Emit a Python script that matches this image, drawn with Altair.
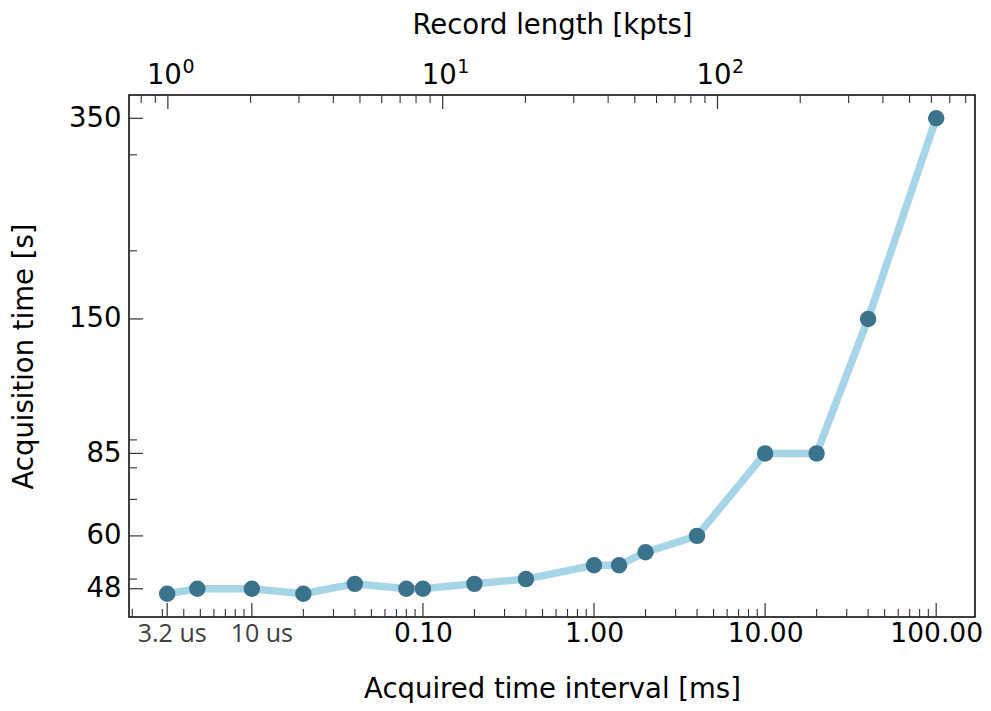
import altair as alt
import pandas as pd

# ---- data ----
time_ms = [0.0032, 0.0048, 0.01, 0.02, 0.04, 0.08, 0.1, 0.2, 0.4, 1.0, 1.4, 2.0, 4.0, 10.0, 20.0, 40.0, 100.0]
acq_s = [47, 48, 48, 47, 49, 48, 48, 49, 50, 53, 53, 56, 60, 85, 85, 150, 350]

x_label_vals = [0.1, 1, 10, 100]
x_major_ticks = [0.0032, 0.01, 0.1, 1, 10, 100]
mantissas = [2, 3, 4, 5, 6, 7, 8, 9]
x_decades = [0.001, 0.01, 0.1, 1, 10]
x_minor_ticks = [m * d for d in x_decades for m in mantissas]
us_labels = ["3.2 us", "10 us"]
us_pos = [0.0032, 0.01]

y_major = [48, 60, 85, 150, 350]
y_minor = [50, 70, 80, 90, 200, 300]

top_major = [1, 10, 100]
top_base = ["10", "10", "10"]
top_exp = ["0", "1", "2"]
top_minor = [0.8, 0.9] + [m * d for d in [1, 10, 100] for m in mantissas]

X_DOMAIN = [0.001914, 168.6]
Y_DOMAIN = [42.6, 386.2]
TOP_DOMAIN = [0.722, 865.0]

W, H = 846, 522
MAJ, MIN = 14, 8
TICK_COLOR = "#333333"
FONT = "DejaVu Sans"
FS = 27.5

df = pd.DataFrame({"t": time_ms, "a": acq_s})
xs = alt.Scale(type="log", domain=X_DOMAIN, nice=False)
ys = alt.Scale(type="log", domain=Y_DOMAIN, nice=False)
ts = alt.Scale(type="log", domain=TOP_DOMAIN, nice=False)

x_axis = alt.Axis(values=x_label_vals, format=".2f", ticks=False, domain=False, grid=False,
                  labelFont=FONT, labelFontSize=26.5, labelColor="black", labelPadding=3,
                  labelFlush=False, labelOverlap=False,
                  title="Acquired time interval [ms]", titleFont=FONT, titleFontSize=FS,
                  titleFontWeight="normal", titleColor="black", titlePadding=29)
y_axis = alt.Axis(values=y_major, format="d", ticks=False, domain=False, grid=False,
                  labelFont=FONT, labelFontSize=FS, labelColor="black", labelPadding=8,
                  labelFlush=False, labelOverlap=False,
                  title="Acquisition time [s]", titleFont=FONT, titleFontSize=FS,
                  titleFontWeight="normal", titleColor="black", titlePadding=30)
top_axis = alt.Axis(orient="top", values=top_major, ticks=False, domain=False, grid=False,
                    labels=False,
                    title="Record length [kpts]", titleFont=FONT, titleFontSize=FS,
                    titleFontWeight="normal", titleColor="black", titlePadding=56)

X = alt.X("t:Q", scale=xs, axis=x_axis)
Y = alt.Y("a:Q", scale=ys, axis=y_axis)

line = alt.Chart(df).mark_line(color="#a6d5e8", strokeWidth=7.5).encode(x=X, y=Y)
pts = alt.Chart(df).mark_circle(color="#3c738c", opacity=1, size=270).encode(x=X, y=Y)

bx_major = alt.Chart(pd.DataFrame({"t": x_major_ticks})).mark_rule(color=TICK_COLOR, strokeWidth=1.2).encode(
    x=X, y=alt.value(H), y2=alt.value(H - MAJ))
bx_minor = alt.Chart(pd.DataFrame({"t": x_minor_ticks})).transform_filter(
    f"datum.t >= {X_DOMAIN[0]} && datum.t <= {X_DOMAIN[1]}").mark_rule(color=TICK_COLOR, strokeWidth=1.1).encode(
    x=X, y=alt.value(H), y2=alt.value(H - MIN))
ly_major = alt.Chart(pd.DataFrame({"a": y_major})).mark_rule(color=TICK_COLOR, strokeWidth=1.2).encode(
    y=Y, x=alt.value(0), x2=alt.value(MAJ))
ly_minor = alt.Chart(pd.DataFrame({"a": y_minor})).mark_rule(color=TICK_COLOR, strokeWidth=1.1).encode(
    y=Y, x=alt.value(0), x2=alt.value(MIN))

us_df = pd.DataFrame({"t": us_pos, "lab": us_labels})
us1 = alt.Chart(us_df.iloc[[0]]).mark_text(font="Open Sans", fontSize=25, color="#404040",
                                            align="center", baseline="alphabetic", dx=5).encode(
    x=X, y=alt.value(H + 25), text="lab:N")
us2 = alt.Chart(us_df.iloc[[1]]).mark_text(font="Open Sans", fontSize=25, color="#404040",
                                            align="center", baseline="alphabetic", dx=10).encode(
    x=X, y=alt.value(H + 25), text="lab:N")

main = alt.layer(bx_minor, bx_major, ly_minor, ly_major, line, pts, us1, us2)

T = alt.X("r:Q", scale=ts, axis=top_axis)
top_df = pd.DataFrame({"r": top_major, "base": top_base, "exp": top_exp})
top_maj = alt.Chart(top_df).mark_rule(color=TICK_COLOR, strokeWidth=1.2).encode(
    x=T, y=alt.value(0), y2=alt.value(MAJ))
top_min = alt.Chart(pd.DataFrame({"r": top_minor})).transform_filter(
    f"datum.r >= {TOP_DOMAIN[0]} && datum.r <= {TOP_DOMAIN[1]}").mark_rule(color=TICK_COLOR, strokeWidth=1.1).encode(
    x=T, y=alt.value(0), y2=alt.value(MIN))
top_base_txt = alt.Chart(top_df).mark_text(font=FONT, fontSize=FS, color="black", align="right",
                                           baseline="alphabetic", dx=14).encode(
    x=T, y=alt.value(-11.5), text="base:N")
top_exp_txt = alt.Chart(top_df).mark_text(font=FONT, fontSize=19, color="black", align="left",
                                          baseline="alphabetic", dx=14.5).encode(
    x=T, y=alt.value(-22.5), text="exp:N")
top = alt.layer(top_min, top_maj, top_base_txt, top_exp_txt)

chart = alt.layer(main, top).resolve_scale(x="independent").properties(
    width=W, height=H,
    autosize=alt.AutoSizeParams(type="none"),
    padding={"left": 121, "top": 87, "right": 8, "bottom": 86}
).configure(background="white").configure_view(stroke="black", strokeWidth=1.5)

chart.save("out.html", embed_options={"renderer": "svg", "actions": False})
